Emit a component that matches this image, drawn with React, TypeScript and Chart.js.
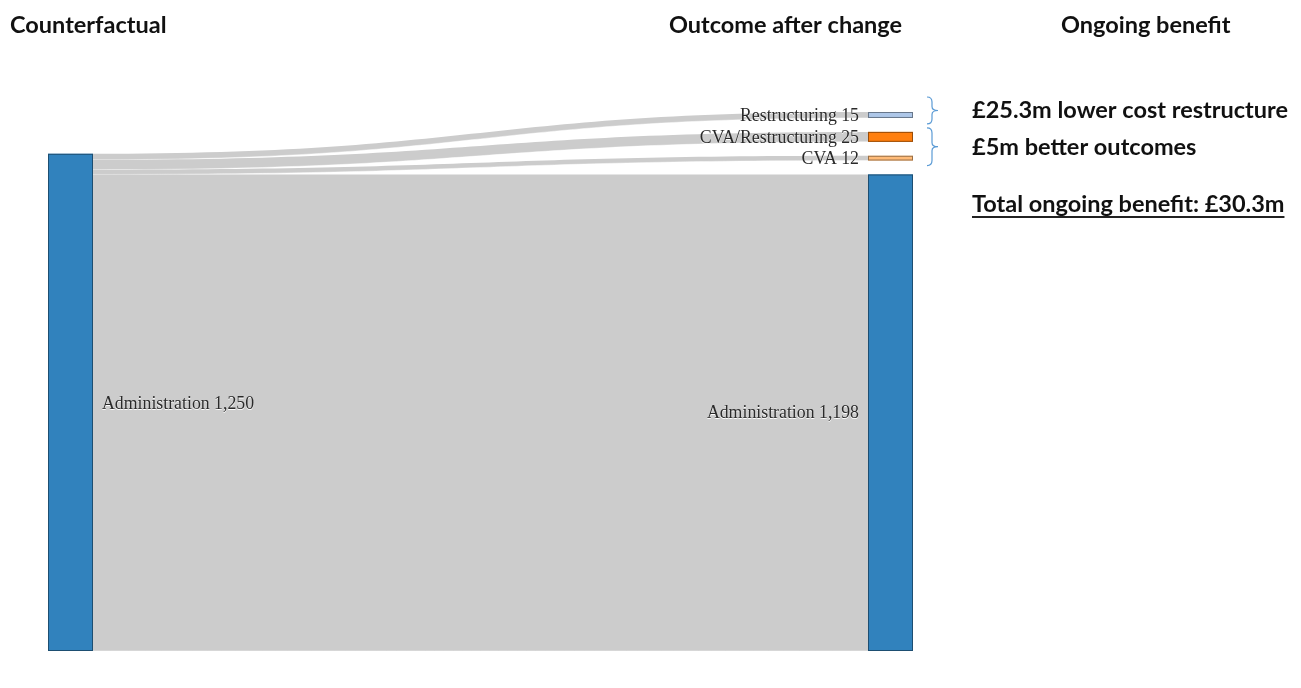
import React, { useEffect, useRef } from 'react';
import { Chart, registerables } from 'chart.js';

Chart.register(...registerables);

// ---- data ----
const sourceNode = 'Administration';
const targetNodes = ['Restructuring', 'CVA/Restructuring', 'CVA', 'Administration'];
const flowValues = [15, 25, 12, 1198];
const targetColors = ['#aec7e8', '#ff7f0e', '#ffbb78', '#3182bd'];
const sourceColor = '#3182bd';
const columnHeaders = ['Counterfactual', 'Outcome after change', 'Ongoing benefit'];
const benefitLines = ['£25.3m lower cost restructure', '£5m better outcomes'];
const benefitGroups = [[0], [1, 2]];
const totalLine = 'Total ongoing benefit: £30.3m';

const NODE_PAD = 35; // value units between stacked nodes
const NODE_W = 45;

function darker(hex: string, k: number) {
  const n = parseInt(hex.slice(1), 16);
  const r = Math.round(((n >> 16) & 255) * k);
  const g = Math.round(((n >> 8) & 255) * k);
  const b = Math.round((n & 255) * k);
  return `rgb(${r},${g},${b})`;
}

const fmt = (v: number) => v.toLocaleString('en-GB');

const total = flowValues.reduce((a, b) => a + b, 0);
const yMax = total + NODE_PAD * (targetNodes.length - 1);

// layout in value units
function layout() {
  const right: { y0: number; y1: number }[] = new Array(targetNodes.length);
  let y = 0;
  for (let i = targetNodes.length - 1; i >= 0; i--) {
    right[i] = { y0: y, y1: y + flowValues[i] };
    y = right[i].y1 + NODE_PAD;
  }
  const links: { sy0: number; sy1: number; ty0: number; ty1: number }[] = [];
  let cur = total;
  for (let i = 0; i < targetNodes.length; i++) {
    links.push({ sy1: cur, sy0: cur - flowValues[i], ty0: right[i].y0, ty1: right[i].y1 });
    cur -= flowValues[i];
  }
  return { left: { y0: 0, y1: total }, right, links };
}

const HEAD_FONT = 'bold 23.5px Lato, "Open Sans", sans-serif';

const sankeyPlugin = {
  id: 'sankeyDraw',
  afterDraw(chart: any) {
    const ctx = chart.ctx as CanvasRenderingContext2D;
    const xs = chart.scales.x;
    const ys = chart.scales.y;
    const L = layout();
    const lx0 = xs.getPixelForValue(0);
    const lx1 = lx0 + NODE_W;
    const rx1 = xs.getPixelForValue(1);
    const rx0 = rx1 - NODE_W;
    const py = (v: number) => ys.getPixelForValue(v);

    ctx.save();
    // links
    const xm = (lx1 + rx0) / 2;
    L.links.forEach((lk) => {
      ctx.beginPath();
      ctx.moveTo(lx1, py(lk.sy1));
      ctx.bezierCurveTo(xm, py(lk.sy1), xm, py(lk.ty1), rx0, py(lk.ty1));
      ctx.lineTo(rx0, py(lk.ty0));
      ctx.bezierCurveTo(xm, py(lk.ty0), xm, py(lk.sy0), lx1, py(lk.sy0));
      ctx.closePath();
      ctx.fillStyle = '#cccccc';
      ctx.fill();
      ctx.strokeStyle = 'rgba(255,255,255,0.55)';
      ctx.lineWidth = 0.8;
      ctx.beginPath();
      ctx.moveTo(lx1, py(lk.sy0));
      ctx.bezierCurveTo(xm, py(lk.sy0), xm, py(lk.ty0), rx0, py(lk.ty0));
      ctx.stroke();
    });

    // nodes
    const drawNode = (x0: number, y0v: number, y1v: number, color: string) => {
      const top = py(y1v);
      const bot = py(y0v);
      ctx.fillStyle = color;
      ctx.fillRect(x0, top, NODE_W, bot - top);
      ctx.strokeStyle = darker(color, 0.6);
      ctx.lineWidth = 1;
      ctx.strokeRect(x0 + 0.5, top + 0.5, NODE_W - 1, Math.max(bot - top - 1, 1));
    };
    drawNode(lx0, L.left.y0, L.left.y1, sourceColor);
    L.right.forEach((n, i) => drawNode(rx0, n.y0, n.y1, targetColors[i]));

    // node labels
    ctx.font = '17.8px "Liberation Serif", "Times New Roman", serif';
    ctx.fillStyle = '#2a2a2a';
    ctx.textBaseline = 'middle';
    ctx.shadowColor = '#ffffff';
    ctx.shadowOffsetY = 1;
    ctx.shadowBlur = 0;
    ctx.textAlign = 'left';
    ctx.fillText(`${sourceNode} ${fmt(total)}`, lx1 + 9, (py(L.left.y0) + py(L.left.y1)) / 2 + 2);
    ctx.textAlign = 'right';
    L.right.forEach((n, i) => {
      ctx.fillText(`${targetNodes[i]} ${fmt(flowValues[i])}`, rx0 - 9, (py(n.y0) + py(n.y1)) / 2 + 1);
    });
    ctx.shadowColor = 'transparent';
    ctx.shadowOffsetY = 0;

    // headers
    ctx.fillStyle = '#111';
    ctx.textBaseline = 'alphabetic';
    ctx.font = HEAD_FONT;
    ctx.textAlign = 'left';
    ctx.fillText(columnHeaders[0], 10, 33, 157);
    ctx.fillText(columnHeaders[1], 669, 33, 235);
    ctx.fillText(columnHeaders[2], 1061, 33, 172);

    // braces + benefit text
    const braceExt = [
      [15, 6],
      [4, 5],
    ];
    benefitGroups.forEach((g, gi) => {
      const topV = L.right[g[0]].y1;
      const botV = L.right[g[g.length - 1]].y0;
      const top = py(topV) - braceExt[gi][0];
      const bot = py(botV) + braceExt[gi][1];
      const mid = (top + bot) / 2;
      const xb = rx1 + 14;
      const xv = xb + 5;
      const xt = xb + 11;
      ctx.beginPath();
      ctx.moveTo(xb, top);
      ctx.quadraticCurveTo(xv, top, xv, top + 5);
      ctx.lineTo(xv, mid - 4);
      ctx.quadraticCurveTo(xv, mid, xt, mid);
      ctx.quadraticCurveTo(xv, mid, xv, mid + 4);
      ctx.lineTo(xv, bot - 5);
      ctx.quadraticCurveTo(xv, bot, xb, bot);
      ctx.strokeStyle = '#5b9bd5';
      ctx.lineWidth = 1.2;
      ctx.stroke();

      ctx.fillStyle = '#111';
      ctx.font = HEAD_FONT;
      ctx.textAlign = 'left';
      ctx.fillText(benefitLines[gi], 972, mid + 8, 320);
    });
    ctx.fillText(totalLine, 972, 212, 314);
    const w = Math.min(ctx.measureText(totalLine).width, 314);
    ctx.fillStyle = '#222';
    ctx.fillRect(972, 216, w, 2);

    ctx.restore();
  },
};

export default function App() {
  const ref = useRef<HTMLCanvasElement>(null);
  useEffect(() => {
    document.body.style.margin = '0';
    const chart = new Chart(ref.current as HTMLCanvasElement, {
      type: 'scatter',
      data: { datasets: [{ data: [] }] },
      options: {
        animation: false,
        responsive: false,
        devicePixelRatio: 1,
        layout: { padding: { left: 48, right: 388, top: 112, bottom: 37 } },
        plugins: { legend: { display: false }, tooltip: { enabled: false }, title: { display: false } },
        scales: {
          x: { type: 'linear', min: 0, max: 1, display: false },
          y: { type: 'linear', min: 0, max: yMax, display: false },
        },
      },
      plugins: [sankeyPlugin],
    });
    return () => chart.destroy();
  }, []);
  return (
    <div style={{ position: 'fixed', left: 0, top: 0, width: 1301, height: 688, background: '#fff' }}>
      <canvas ref={ref} width={1301} height={688} />
    </div>
  );
}
